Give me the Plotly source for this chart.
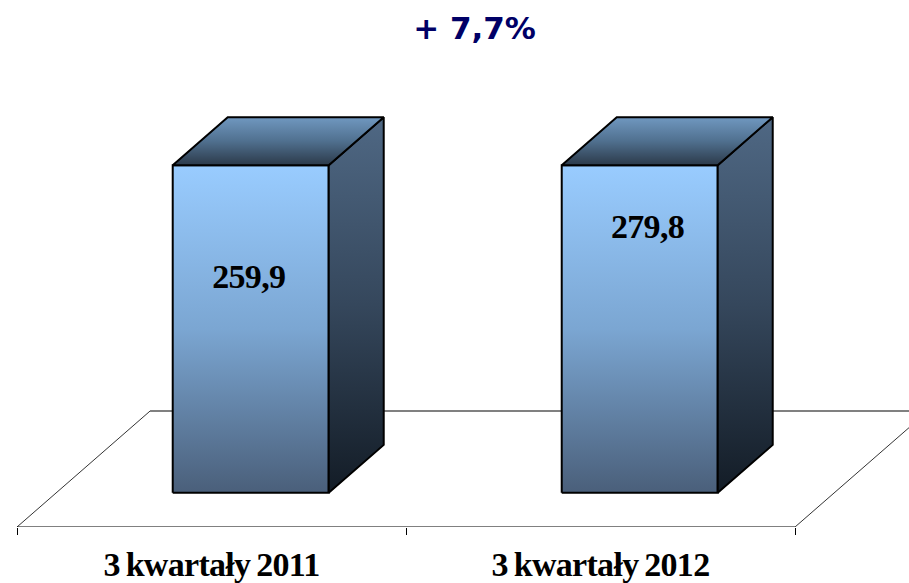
import plotly.graph_objects as go

categories = ['3 kwartały 2011', '3 kwartały 2012']
values = [259.9, 279.8]
value_labels = ['259,9', '279,8']
title_text = '+ 7,7%'

# the original chart has a cut value axis, both columns hit the ceiling
axis_min = 175
axis_max = 240.3
y_range = [168.2, 273.2]
x_range = [-0.0437, 2.293]

bar_width = 0.401
bar_shift = 0.1008
depth_x = 0.1414
depth_y = 9.56
floor_x = 0.342
floor_y = 23.1
label_nudge = [-0.005, 0.02]

front_colors = [[0, '#99CCFF'], [0.5, '#7BA6D2'], [1, '#4A5F7A']]
side_colors = [[0, '#4F6884'], [0.5, '#35475C'], [1, '#131C26']]
top_colors = [[0, '#7098C0'], [0.5, '#50708F'], [1, '#2C3A4A']]


def face(xs, ys, colors):
    top = max(ys)
    bottom = min(ys)
    return go.Scatter(
        x=xs, y=ys,
        mode='lines',
        fill='toself',
        fillgradient=dict(type='vertical', colorscale=colors, start=top, stop=bottom),
        line=dict(color='black', width=2),
        hoverinfo='skip',
        showlegend=False,
    )


fig = go.Figure()

# floor
fig.add_trace(go.Scatter(
    x=[floor_x, 2 + floor_x], y=[y_range[0] + floor_y] * 2,
    mode='lines', line=dict(color='#808080', width=2),
    hoverinfo='skip', showlegend=False,
))
for x0 in [0, 2]:
    fig.add_trace(go.Scatter(
        x=[x0, x0 + floor_x], y=[y_range[0], y_range[0] + floor_y],
        mode='lines', line=dict(color='#333333', width=1),
        hoverinfo='skip', showlegend=False,
    ))
fig.add_trace(go.Scatter(
    x=[0, 2], y=[y_range[0], y_range[0]],
    mode='lines', line=dict(color='black', width=1),
    cliponaxis=False, hoverinfo='skip', showlegend=False,
))

for i, v in enumerate(values):
    left = i + 0.5 + bar_shift - bar_width / 2
    right = left + bar_width
    top = min(v, axis_max)
    fig.add_trace(face([left, right, right, left, left],
                       [axis_min, axis_min, top, top, axis_min], front_colors))
    fig.add_trace(face([right, right + depth_x, right + depth_x, right, right],
                       [axis_min, axis_min + depth_y, top + depth_y, top, axis_min], side_colors))
    fig.add_trace(face([left, right, right + depth_x, left + depth_x, left],
                       [top, top, top + depth_y, top + depth_y, top], top_colors))

# labels sit in the middle of the uncut column
fig.add_trace(go.Scatter(
    x=[i + 0.5 + bar_shift + label_nudge[i] for i in range(len(values))],
    y=[(v + axis_min) / 2 for v in values],
    text=value_labels,
    mode='text',
    textposition='middle center',
    textfont=dict(family='Liberation Serif', size=34, color='black', weight='bold'),
    hoverinfo='skip',
    showlegend=False,
))

fig.update_layout(
    width=909,
    height=583,
    template='plotly_white',
    paper_bgcolor='white',
    plot_bgcolor='white',
    margin=dict(l=0, r=0, t=0, b=56, pad=0),
    title=dict(
        text=title_text,
        x=474.5 / 909, xanchor='center',
        y=1 - 28 / 583, yanchor='middle',
        font=dict(family='DejaVu Sans', size=31, color='#000066', weight='bold'),
    ),
)
fig.update_xaxes(
    range=x_range,
    tickvals=[0.5, 1.5],
    ticktext=categories,
    ticks='',
    ticklabelstandoff=14,
    tickfont=dict(family='Liberation Serif', size=34, color='black', weight='bold'),
    showgrid=False,
    zeroline=False,
    showline=False,
    minor=dict(tickmode='array', tickvals=[0, 1, 2], ticks='outside', ticklen=7, tickcolor='black', tickwidth=1, showgrid=False),
)
fig.update_yaxes(range=y_range, visible=False)

# page margin off, and the tight, heavy look of the original labels
css = ("document.body.style.margin='0';"
       "var s=document.createElement('style');"
       "s.textContent='.xtick text,.textpoint text{letter-spacing:-0.7px;word-spacing:-2px;-webkit-text-stroke:0.3px black}"
       ".gtitle{-webkit-text-stroke:0.5px #000066}';"
       "document.head.appendChild(s);")
fig.write_html("out.html", config={'displayModeBar': False}, post_script=css)
